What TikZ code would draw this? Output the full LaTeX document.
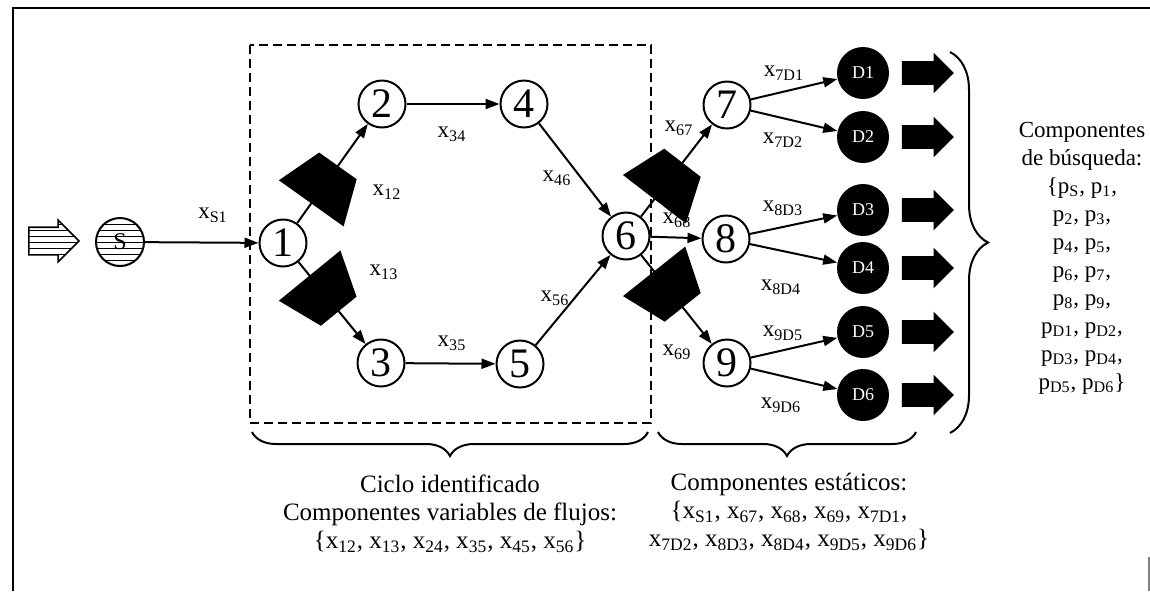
\documentclass[tikz,border=0pt]{standalone}
\usepackage{fontspec}
\setmainfont{Liberation Serif}
\usetikzlibrary{arrows.meta,shapes.geometric,shapes.arrows,patterns,decorations.pathreplacing,calc}

\tikzset{
  nodo/.style={circle,draw,fill=white,line width=1pt,minimum size=23.5pt,inner sep=0pt,font=\fontsize{21}{21}\selectfont},
  dest/.style={circle,fill=black,minimum size=26pt,inner sep=0pt,text=white,font=\fontsize{9}{9}\selectfont},
  flujo/.style={line width=1pt,-{Triangle[length=7pt,width=5pt]}},
  valvula/.style={trapezium,fill=black,trapezium angle=70,minimum width=35pt,minimum height=23pt,inner sep=0.5pt},
  salida/.style={single arrow,fill=black,minimum height=26pt,inner xsep=0pt,inner ysep=5.75pt,single arrow head extend=4.25pt,single arrow tip angle=90},
  etiq/.style={font=\fontsize{11.5}{11.5}\selectfont,inner sep=1pt},
  texto/.style={align=center,font=\fontsize{12.5}{14}\selectfont},
  llave/.style={decorate,line width=1pt}
}

\begin{document}
\begin{tikzpicture}[x=0.5pt,y=-0.5pt]
\useasboundingbox (0,0) rectangle (1150,591);

% marco
\draw[line width=1.2pt] (13,591) -- (13,8) -- (1150,8);
\draw[line width=0.8pt,gray] (1149,557) -- (1149,591);

% ciclo
\draw[line width=1pt,dash pattern=on 4.5pt off 2.5pt] (250,45) rectangle (651,423);

\node[single arrow,draw,line width=0.8pt,pattern=horizontal lines,minimum height=25pt,inner xsep=0pt,inner ysep=6.5pt,single arrow head extend=3.5pt,single arrow tip angle=90] (entrada) at (47,241) {};
\node[circle,draw,line width=1pt,pattern=horizontal lines,minimum size=24pt,inner sep=0pt,font=\fontsize{12}{12}\selectfont] (nS) at (120,242) {S};

\node[nodo] (n1) at (283,243) {1};
\node[nodo] (n2) at (382,104) {2};
\node[nodo] (n3) at (381,363) {3};
\node[nodo] (n4) at (524,104) {4};
\node[nodo] (n5) at (520,364) {5};
\node[nodo] (n6) at (626,236) {6};
\node[nodo] (n7) at (727,105) {7};
\node[nodo] (n8) at (726,239) {8};
\node[nodo] (n9) at (727,363) {9};

\foreach \i/\y in {1/73,2/137,3/210,4/268,5/332,6/395}{
  \node[dest] (d\i) at (863,\y) {D\i};
  \node[salida] (s\i) at (922,\y) {};
}

\draw[flujo] (nS) -- (n1);
\draw[flujo] (n1) -- (n2);
\draw[flujo] (n1) -- (n3);
\draw[flujo] (n2) -- (n4);
\draw[flujo] (n3) -- (n5);
\draw[flujo] (n4) -- (n6);
\draw[flujo] (n5) -- (n6);
\draw[flujo] (n6) -- (n7);
\draw[flujo] (n6) -- (n8);
\draw[flujo] (n6) -- (n9);
\draw[flujo] (n7) -- (d1);
\draw[flujo] (n7) -- (d2);
\draw[flujo] (n8) -- (d3);
\draw[flujo] (n8) -- (d4);
\draw[flujo] (n9) -- (d5);
\draw[flujo] (n9) -- (d6);

% valvulas
\foreach \a/\b in {n1/n2,n1/n3,n6/n7,n6/n9}
  \path let \p1=($(\b)-(\a)$), \n1={atan2(\y1,\x1)} in
    ($(\a)!0.42!(\b)$) node[valvula,rotate=\n1-90] (v\a\b) {};

% etiquetas
\node[etiq] (lS1) at (213,215) {x\textsubscript{S1}};
\node[etiq] (l12) at (387,192) {x\textsubscript{12}};
\node[etiq] (l13) at (384,272) {x\textsubscript{13}};
\node[etiq] (l34) at (452,134) {x\textsubscript{34}};
\node[etiq] (l46) at (557,178) {x\textsubscript{46}};
\node[etiq] (l35) at (452,343) {x\textsubscript{35}};
\node[etiq] (l56) at (555,298) {x\textsubscript{56}};
\node[etiq] (l67) at (679,128) {x\textsubscript{67}};
\node[etiq] (l68) at (677,220) {x\textsubscript{68}};
\node[etiq] (l69) at (677,352) {x\textsubscript{69}};
\node[etiq] (l7D1) at (784,73) {x\textsubscript{7D1}};
\node[etiq] (l7D2) at (783,140) {x\textsubscript{7D2}};
\node[etiq] (l8D3) at (783,208) {x\textsubscript{8D3}};
\node[etiq] (l8D4) at (781,287) {x\textsubscript{8D4}};
\node[etiq] (l9D5) at (783,333) {x\textsubscript{9D5}};
\node[etiq] (l9D6) at (781,405) {x\textsubscript{9D6}};

% llaves
\draw[llave,decoration={brace,mirror,amplitude=12pt}] (252,432) -- (648,432);
\draw[llave,decoration={brace,mirror,amplitude=12pt}] (658,432) -- (916,432);
\draw[llave,decoration={brace,amplitude=19pt}] (950,52) -- (950,433);

\node[texto] (ciclo) at (450,514) {Ciclo identificado\\Componentes variables de flujos:\\
  \{x\textsubscript{12}, x\textsubscript{13}, x\textsubscript{24}, x\textsubscript{35}, x\textsubscript{45}, x\textsubscript{56}\}};
\node[texto] (estaticos) at (789,512) {Componentes estáticos:\\
  \{x\textsubscript{S1}, x\textsubscript{67}, x\textsubscript{68}, x\textsubscript{69}, x\textsubscript{7D1},\\
  x\textsubscript{7D2}, x\textsubscript{8D3}, x\textsubscript{8D4}, x\textsubscript{9D5}, x\textsubscript{9D6}\}};
\node[texto,font=\fontsize{11.5}{14}\selectfont] (busqueda) at (1082,258) {Componentes\\de búsqueda:\\
  \{p\textsubscript{S}, p\textsubscript{1},\\p\textsubscript{2}, p\textsubscript{3},\\p\textsubscript{4}, p\textsubscript{5},\\
  p\textsubscript{6}, p\textsubscript{7},\\p\textsubscript{8}, p\textsubscript{9},\\p\textsubscript{D1}, p\textsubscript{D2},\\
  p\textsubscript{D3}, p\textsubscript{D4},\\p\textsubscript{D5}, p\textsubscript{D6}\}};
\end{tikzpicture}
\end{document}
